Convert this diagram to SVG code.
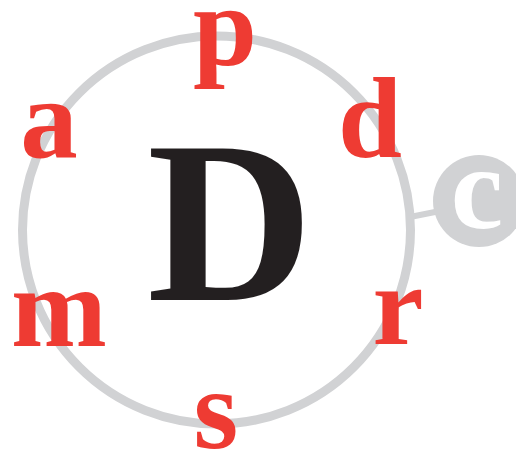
<svg xmlns="http://www.w3.org/2000/svg" width="516" height="453" viewBox="0 0 516 453">
<style>
.ring{fill:none;stroke:#D1D2D4;stroke-width:9}
.conn{stroke:#D1D2D4;stroke-width:6}
text{font-family:'Liberation Serif',serif;font-weight:700}
.lt{font-size:115px;fill:#EE3B33;text-anchor:middle}
.big{font-size:230px;fill:#231F20;text-anchor:middle}
.cl{font-size:118px;fill:#FFFFFF;text-anchor:middle}
</style>
<rect width="516" height="453" fill="#FFFFFF"/>
<g id="ring"><circle class="ring" cx="216.5" cy="230" r="194"/></g>
<g id="connectors"><line class="conn" x1="410" y1="217" x2="440" y2="211"/></g>
<g id="node-c"><circle cx="479" cy="201" r="46" fill="#D1D2D4"/><text class="cl" x="477" y="228">c</text></g>
<g id="node-D"><text class="big" x="230" y="300">D</text></g>
<g id="node-p"><text class="lt" x="225" y="65">p</text></g>
<g id="node-a"><text class="lt" x="49" y="157">a</text></g>
<g id="node-d"><text class="lt" x="370" y="157">d</text></g>
<g id="node-m"><text class="lt" x="59" y="346">m</text></g>
<g id="node-r"><text class="lt" x="398" y="344">r</text></g>
<g id="node-s"><text class="lt" x="216" y="448">s</text></g>
</svg>
